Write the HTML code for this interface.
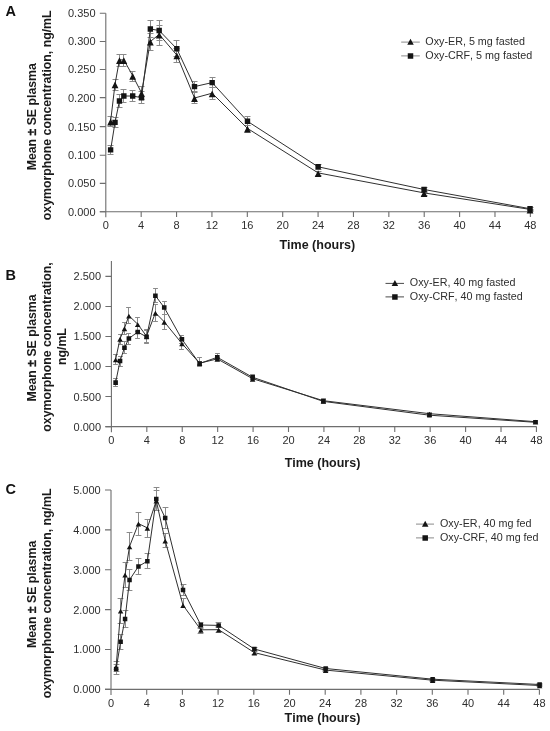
<!DOCTYPE html>
<html><head><meta charset="utf-8"><style>
html,body{margin:0;padding:0;background:#fff;}
svg{display:block;font-family:"Liberation Sans",sans-serif;will-change:transform;font-kerning:none;}
</style></head><body>
<svg width="550" height="731" viewBox="0 0 550 731">
<rect width="550" height="731" fill="#fff"/>
<text x="5.4" y="15.9" font-size="14.5" font-weight="bold" fill="#111">A</text>
<text transform="translate(36.0,116.75) rotate(-90)" text-anchor="middle" font-size="12.3" font-weight="bold" fill="#1a1a1a">Mean <tspan stroke="#1a1a1a" stroke-width="0.3">±</tspan> SE plasma</text>
<text transform="translate(50.9,115.3) rotate(-90)" text-anchor="middle" font-size="12.3" font-weight="bold" fill="#1a1a1a">oxymorphone concentration, ng/mL</text>
<path d="M105.8,13.2V217.3M99.8,211.7H530.36" stroke="#6e6e6e" stroke-width="1.1" fill="none"/>
<path d="M99.8,13.2H105.8M99.8,41.5H105.8M99.8,69.5H105.8M99.8,97.6H105.8M99.8,126.6H105.8M99.8,155.2H105.8M99.8,183.4H105.8M99.8,211.7H105.8M141.18,211.7V217.1M176.56,211.7V217.1M211.94,211.7V217.1M247.32,211.7V217.1M282.7,211.7V217.1M318.08,211.7V217.1M353.46,211.7V217.1M388.84,211.7V217.1M424.22,211.7V217.1M459.6,211.7V217.1M494.98,211.7V217.1M530.36,211.7V217.1" stroke="#6e6e6e" stroke-width="1.1" fill="none"/>
<text x="95.5" y="17.15" text-anchor="end" font-size="11" fill="#2e2e2e">0.350</text>
<text x="95.5" y="45.45" text-anchor="end" font-size="11" fill="#2e2e2e">0.300</text>
<text x="95.5" y="73.45" text-anchor="end" font-size="11" fill="#2e2e2e">0.250</text>
<text x="95.5" y="101.55" text-anchor="end" font-size="11" fill="#2e2e2e">0.200</text>
<text x="95.5" y="130.55" text-anchor="end" font-size="11" fill="#2e2e2e">0.150</text>
<text x="95.5" y="159.15" text-anchor="end" font-size="11" fill="#2e2e2e">0.100</text>
<text x="95.5" y="187.35" text-anchor="end" font-size="11" fill="#2e2e2e">0.050</text>
<text x="95.5" y="215.65" text-anchor="end" font-size="11" fill="#2e2e2e">0.000</text>
<text x="105.8" y="228.6" text-anchor="middle" font-size="11" fill="#2e2e2e">0</text>
<text x="141.18" y="228.6" text-anchor="middle" font-size="11" fill="#2e2e2e">4</text>
<text x="176.56" y="228.6" text-anchor="middle" font-size="11" fill="#2e2e2e">8</text>
<text x="211.94" y="228.6" text-anchor="middle" font-size="11" fill="#2e2e2e">12</text>
<text x="247.32" y="228.6" text-anchor="middle" font-size="11" fill="#2e2e2e">16</text>
<text x="282.7" y="228.6" text-anchor="middle" font-size="11" fill="#2e2e2e">20</text>
<text x="318.08" y="228.6" text-anchor="middle" font-size="11" fill="#2e2e2e">24</text>
<text x="353.46" y="228.6" text-anchor="middle" font-size="11" fill="#2e2e2e">28</text>
<text x="388.84" y="228.6" text-anchor="middle" font-size="11" fill="#2e2e2e">32</text>
<text x="424.22" y="228.6" text-anchor="middle" font-size="11" fill="#2e2e2e">36</text>
<text x="459.6" y="228.6" text-anchor="middle" font-size="11" fill="#2e2e2e">40</text>
<text x="494.98" y="228.6" text-anchor="middle" font-size="11" fill="#2e2e2e">44</text>
<text x="530.36" y="228.6" text-anchor="middle" font-size="11" fill="#2e2e2e">48</text>
<text x="317.3" y="248.5" text-anchor="middle" font-size="12.5" font-weight="bold" fill="#1a1a1a">Time (hours)</text>
<path d="M110.5,116.5V121.9M107.5,116.5H113.5M110.5,121.9V126.5M107.5,126.5H113.5M115.5,79.5V84.8M112.5,79.5H118.5M115.5,84.8V90.5M112.5,90.5H118.5M119.5,54.5V60.5M116.5,54.5H122.5M119.5,60.5V66.5M116.5,66.5H122.5M123.5,54.5V60.5M120.5,54.5H126.5M123.5,60.5V66.5M120.5,66.5H126.5M132.5,71.5V76.3M129.5,71.5H135.5M132.5,76.3V81.5M129.5,81.5H135.5M141.5,86.5V93.4M138.5,86.5H144.5M141.5,93.4V99.5M138.5,99.5H144.5M150.5,33.5V42.1M147.5,33.5H153.5M150.5,42.1V50.5M147.5,50.5H153.5M159.5,25.5V35M156.5,25.5H162.5M159.5,35V45.5M156.5,45.5H162.5M176.5,48.5V55.7M173.5,48.5H179.5M176.5,55.7V62.5M173.5,62.5H179.5M194.5,92.5V98.6M191.5,92.5H197.5M194.5,98.6V103.5M191.5,103.5H197.5M212.5,87.5V93.8M209.5,87.5H215.5M212.5,93.8V99.5M209.5,99.5H215.5M247.5,125.5V129M244.5,125.5H250.5M247.5,129V132.5M244.5,132.5H250.5M318.5,171.5V173.5M315.5,171.5H321.5M318.5,173.5V175.5M315.5,175.5H321.5M424.5,192.5V193.5M421.5,192.5H427.5M424.5,193.5V195.5M421.5,195.5H427.5M530.5,209.5V210M527.5,209.5H533.5M530.5,210V211.5M527.5,211.5H533.5M110.5,145.5V149.9M107.5,145.5H113.5M110.5,149.9V154.5M107.5,154.5H113.5M115.5,117.5V122.4M112.5,117.5H118.5M115.5,122.4V127.5M112.5,127.5H118.5M119.5,94.5V101M116.5,94.5H122.5M119.5,101V107.5M116.5,107.5H122.5M123.5,89.5V96M120.5,89.5H126.5M123.5,96V102.5M120.5,102.5H126.5M132.5,90.5V96M129.5,90.5H135.5M132.5,96V101.5M129.5,101.5H135.5M141.5,91.5V97.7M138.5,91.5H144.5M141.5,97.7V103.5M138.5,103.5H144.5M150.5,20.5V29M147.5,20.5H153.5M150.5,29V37.5M147.5,37.5H153.5M159.5,20.5V30.5M156.5,20.5H162.5M159.5,30.5V40.5M156.5,40.5H162.5M176.5,40.5V48.8M173.5,40.5H179.5M176.5,48.8V56.5M173.5,56.5H179.5M194.5,81.5V86.6M191.5,81.5H197.5M194.5,86.6V91.5M191.5,91.5H197.5M212.5,77.5V82.6M209.5,77.5H215.5M212.5,82.6V87.5M209.5,87.5H215.5M247.5,116.5V121.3M244.5,116.5H250.5M247.5,121.3V125.5M244.5,125.5H250.5M318.5,164.5V166.8M315.5,164.5H321.5M318.5,166.8V169.5M315.5,169.5H321.5M424.5,187.5V189.5M421.5,187.5H427.5M424.5,189.5V191.5M421.5,191.5H427.5M530.5,207.5V208.7M527.5,207.5H533.5M530.5,208.7V210.5M527.5,210.5H533.5" stroke="#8a8a8a" stroke-width="1" fill="none"/>
<polyline points="110.62,121.3 115.03,84.2 119.45,59.9 123.86,59.9 132.69,75.7 141.52,92.8 150.35,41.5 159.18,34.4 176.84,55.1 194.5,98 212.16,93.2 247.48,128.4 318.12,172.9 424.08,192.9 530.04,209.4" stroke="#303030" stroke-width="1" fill="none"/>
<polyline points="110.62,149.9 115.03,122.4 119.45,101 123.86,96 132.69,96 141.52,97.7 150.35,29 159.18,30.5 176.84,48.8 194.5,86.6 212.16,82.6 247.48,121.3 318.12,166.8 424.08,189.5 530.04,208.7" stroke="#303030" stroke-width="1" fill="none"/>
<path d="M110.62,118.6L114.02,125.4H107.22ZM115.03,81.5L118.43,88.3H111.63ZM119.45,57.2L122.85,64H116.05ZM123.86,57.2L127.26,64H120.46ZM132.69,73L136.09,79.8H129.29ZM141.52,90.1L144.92,96.9H138.12ZM150.35,38.8L153.75,45.6H146.95ZM159.18,31.7L162.58,38.5H155.78ZM176.84,52.4L180.24,59.2H173.44ZM194.5,95.3L197.9,102.1H191.1ZM212.16,90.5L215.56,97.3H208.76ZM247.48,125.7L250.88,132.5H244.08ZM318.12,170.2L321.52,177H314.72ZM424.08,190.2L427.48,197H420.68ZM530.04,206.7L533.44,213.5H526.64ZM107.92,147.2h5.4v5.4h-5.4ZM112.33,119.7h5.4v5.4h-5.4ZM116.75,98.3h5.4v5.4h-5.4ZM121.16,93.3h5.4v5.4h-5.4ZM129.99,93.3h5.4v5.4h-5.4ZM138.82,95h5.4v5.4h-5.4ZM147.65,26.3h5.4v5.4h-5.4ZM156.48,27.8h5.4v5.4h-5.4ZM174.14,46.1h5.4v5.4h-5.4ZM191.8,83.9h5.4v5.4h-5.4ZM209.46,79.9h5.4v5.4h-5.4ZM244.78,118.6h5.4v5.4h-5.4ZM315.42,164.1h5.4v5.4h-5.4ZM421.38,186.8h5.4v5.4h-5.4ZM527.34,206h5.4v5.4h-5.4Z" fill="#141414"/>
<path d="M401.2,42.1H419.8M401.2,55.9H419.8" stroke="#8a8a8a" stroke-width="1" fill="none"/>
<path d="M410.5,38.8L413.75,44.8H407.25Z M407.75,53.15h5.5v5.5h-5.5Z" fill="#141414"/>
<text x="425.3" y="44.8" font-size="10.75" fill="#2e2e2e">Oxy-ER, 5 mg fasted</text>
<text x="425.3" y="59" font-size="10.75" fill="#2e2e2e">Oxy-CRF, 5 mg fasted</text>
<text x="5.4" y="279.5" font-size="14.5" font-weight="bold" fill="#111">B</text>
<text transform="translate(36.1,348.0) rotate(-90)" text-anchor="middle" font-size="12.3" font-weight="bold" fill="#1a1a1a">Mean <tspan stroke="#1a1a1a" stroke-width="0.3">±</tspan> SE plasma</text>
<text transform="translate(50.9,347.0) rotate(-90)" text-anchor="middle" font-size="12.3" font-weight="bold" fill="#1a1a1a">oxymorphone concentration,</text>
<text transform="translate(65.9,346.6) rotate(-90)" text-anchor="middle" font-size="12.3" font-weight="bold" fill="#1a1a1a">ng/mL</text>
<path d="M111.4,260.9V432.2M105.4,426.6H536.44" stroke="#6e6e6e" stroke-width="1.1" fill="none"/>
<path d="M105.4,276.4H111.4M105.4,306.44H111.4M105.4,336.48H111.4M105.4,366.52H111.4M105.4,396.56H111.4M105.4,426.6H111.4M146.82,426.6V432M182.24,426.6V432M217.66,426.6V432M253.08,426.6V432M288.5,426.6V432M323.92,426.6V432M359.34,426.6V432M394.76,426.6V432M430.18,426.6V432M465.6,426.6V432M501.02,426.6V432M536.44,426.6V432" stroke="#6e6e6e" stroke-width="1.1" fill="none"/>
<text x="101.1" y="280.35" text-anchor="end" font-size="11" fill="#2e2e2e">2.500</text>
<text x="101.1" y="310.39" text-anchor="end" font-size="11" fill="#2e2e2e">2.000</text>
<text x="101.1" y="340.43" text-anchor="end" font-size="11" fill="#2e2e2e">1.500</text>
<text x="101.1" y="370.47" text-anchor="end" font-size="11" fill="#2e2e2e">1.000</text>
<text x="101.1" y="400.51" text-anchor="end" font-size="11" fill="#2e2e2e">0.500</text>
<text x="101.1" y="430.55" text-anchor="end" font-size="11" fill="#2e2e2e">0.000</text>
<text x="111.4" y="444" text-anchor="middle" font-size="11" fill="#2e2e2e">0</text>
<text x="146.82" y="444" text-anchor="middle" font-size="11" fill="#2e2e2e">4</text>
<text x="182.24" y="444" text-anchor="middle" font-size="11" fill="#2e2e2e">8</text>
<text x="217.66" y="444" text-anchor="middle" font-size="11" fill="#2e2e2e">12</text>
<text x="253.08" y="444" text-anchor="middle" font-size="11" fill="#2e2e2e">16</text>
<text x="288.5" y="444" text-anchor="middle" font-size="11" fill="#2e2e2e">20</text>
<text x="323.92" y="444" text-anchor="middle" font-size="11" fill="#2e2e2e">24</text>
<text x="359.34" y="444" text-anchor="middle" font-size="11" fill="#2e2e2e">28</text>
<text x="394.76" y="444" text-anchor="middle" font-size="11" fill="#2e2e2e">32</text>
<text x="430.18" y="444" text-anchor="middle" font-size="11" fill="#2e2e2e">36</text>
<text x="465.6" y="444" text-anchor="middle" font-size="11" fill="#2e2e2e">40</text>
<text x="501.02" y="444" text-anchor="middle" font-size="11" fill="#2e2e2e">44</text>
<text x="536.44" y="444" text-anchor="middle" font-size="11" fill="#2e2e2e">48</text>
<text x="322.5" y="466.6" text-anchor="middle" font-size="12.5" font-weight="bold" fill="#1a1a1a">Time (hours)</text>
<path d="M115.5,354.5V359.7M113.1,354.5H117.9M115.5,359.7V364.5M113.1,364.5H117.9M120.5,334.5V339M118.1,334.5H122.9M120.5,339V344.5M118.1,344.5H122.9M124.5,322.5V328.5M122.1,322.5H126.9M124.5,328.5V334.5M122.1,334.5H126.9M128.5,307.5V315.9M126.1,307.5H130.9M128.5,315.9V323.5M126.1,323.5H130.9M137.5,317.5V324.4M135.1,317.5H139.9M137.5,324.4V331.5M135.1,331.5H139.9M146.5,329.5V336.4M144.1,329.5H148.9M146.5,336.4V342.5M144.1,342.5H148.9M155.5,304.5V313M153.1,304.5H157.9M155.5,313V321.5M153.1,321.5H157.9M164.5,314.5V322M162.1,314.5H166.9M164.5,322V329.5M162.1,329.5H166.9M181.5,338.5V343.7M179.1,338.5H183.9M181.5,343.7V349.5M179.1,349.5H183.9M199.5,361.5V363.4M197.1,361.5H201.9M199.5,363.4V364.5M197.1,364.5H201.9M217.5,357.5V359.1M215.1,357.5H219.9M217.5,359.1V360.5M215.1,360.5H219.9M252.5,376.5V378.9M250.1,376.5H254.9M252.5,378.9V381.5M250.1,381.5H254.9M323.5,398.5V400.9M321.1,398.5H325.9M323.5,400.9V402.5M321.1,402.5H325.9M429.5,412.5V413.9M427.1,412.5H431.9M429.5,413.9V415.5M427.1,415.5H431.9M535.5,420.5V421.9M533.1,420.5H537.9M535.5,421.9V422.5M533.1,422.5H537.9M115.5,378.5V382.6M113.1,378.5H117.9M115.5,382.6V386.5M113.1,386.5H117.9M120.5,356.5V361M118.1,356.5H122.9M120.5,361V366.5M118.1,366.5H122.9M124.5,341.5V347.8M122.1,341.5H126.9M124.5,347.8V353.5M122.1,353.5H126.9M128.5,333.5V338.5M126.1,333.5H130.9M128.5,338.5V344.5M126.1,344.5H130.9M137.5,326.5V332M135.1,326.5H139.9M137.5,332V338.5M135.1,338.5H139.9M146.5,330.5V336.9M144.1,330.5H148.9M146.5,336.9V343.5M144.1,343.5H148.9M155.5,288.5V295.7M153.1,288.5H157.9M155.5,295.7V302.5M153.1,302.5H157.9M164.5,301.5V307.5M162.1,301.5H166.9M164.5,307.5V314.5M162.1,314.5H166.9M181.5,335.5V339.3M179.1,335.5H183.9M181.5,339.3V343.5M179.1,343.5H183.9M199.5,357.5V363.5M197.1,357.5H201.9M199.5,363.5V366.5M197.1,366.5H201.9M217.5,353.5V357.3M215.1,353.5H219.9M217.5,357.3V359.5M215.1,359.5H219.9M252.5,374.5V377.3M250.1,374.5H254.9M252.5,377.3V379.5M250.1,379.5H254.9M323.5,399.5V401.4M321.1,399.5H325.9M323.5,401.4V403.5M321.1,403.5H325.9M429.5,413.5V415.2M427.1,413.5H431.9M429.5,415.2V416.5M427.1,416.5H431.9M535.5,421.5V422.3M533.1,421.5H537.9M535.5,422.3V423.5M533.1,423.5H537.9" stroke="#8a8a8a" stroke-width="1" fill="none"/>
<polyline points="115.62,359.5 120.04,338.8 124.46,328.3 128.88,315.7 137.72,324.2 146.56,336.2 155.4,312.8 164.24,321.8 181.92,343.5 199.6,363.2 217.28,358.9 252.64,378.7 323.36,400.7 429.44,413.7 535.52,421.7" stroke="#303030" stroke-width="1" fill="none"/>
<polyline points="115.62,382.6 120.04,361 124.46,347.8 128.88,338.5 137.72,332 146.56,336.9 155.4,295.7 164.24,307.5 181.92,339.3 199.6,363.5 217.28,357.3 252.64,377.3 323.36,401.4 429.44,415.2 535.52,422.3" stroke="#303030" stroke-width="1" fill="none"/>
<path d="M115.62,357.45L118.37,362.35H112.87ZM120.04,336.75L122.79,341.65H117.29ZM124.46,326.25L127.21,331.15H121.71ZM128.88,313.65L131.63,318.55H126.13ZM137.72,322.15L140.47,327.05H134.97ZM146.56,334.15L149.31,339.05H143.81ZM155.4,310.75L158.15,315.65H152.65ZM164.24,319.75L166.99,324.65H161.49ZM181.92,341.45L184.67,346.35H179.17ZM199.6,361.15L202.35,366.05H196.85ZM217.28,356.85L220.03,361.75H214.53ZM252.64,376.65L255.39,381.55H249.89ZM323.36,398.65L326.11,403.55H320.61ZM429.44,411.65L432.19,416.55H426.69ZM535.52,419.65L538.27,424.55H532.77ZM113.32,380.3h4.6v4.6h-4.6ZM117.74,358.7h4.6v4.6h-4.6ZM122.16,345.5h4.6v4.6h-4.6ZM126.58,336.2h4.6v4.6h-4.6ZM135.42,329.7h4.6v4.6h-4.6ZM144.26,334.6h4.6v4.6h-4.6ZM153.1,293.4h4.6v4.6h-4.6ZM161.94,305.2h4.6v4.6h-4.6ZM179.62,337h4.6v4.6h-4.6ZM197.3,361.2h4.6v4.6h-4.6ZM214.98,355h4.6v4.6h-4.6ZM250.34,375h4.6v4.6h-4.6ZM321.06,399.1h4.6v4.6h-4.6ZM427.14,412.9h4.6v4.6h-4.6ZM533.22,420h4.6v4.6h-4.6Z" fill="#141414"/>
<path d="M385.5,283.4H404M385.5,296.9H404" stroke="#4a4a4a" stroke-width="1" fill="none"/>
<path d="M394.9,280.1L398.15,286.1H391.65Z M392.15,294.15h5.5v5.5h-5.5Z" fill="#141414"/>
<text x="409.8" y="286" font-size="10.75" fill="#2e2e2e">Oxy-ER, 40 mg fasted</text>
<text x="409.8" y="299.7" font-size="10.75" fill="#2e2e2e">Oxy-CRF, 40 mg fasted</text>
<text x="5.4" y="494.1" font-size="14.5" font-weight="bold" fill="#111">C</text>
<text transform="translate(35.9,594.4) rotate(-90)" text-anchor="middle" font-size="12.3" font-weight="bold" fill="#1a1a1a">Mean <tspan stroke="#1a1a1a" stroke-width="0.3">±</tspan> SE plasma</text>
<text transform="translate(50.9,593.4) rotate(-90)" text-anchor="middle" font-size="12.3" font-weight="bold" fill="#1a1a1a">oxymorphone concentration, ng/mL</text>
<path d="M111,490V695M105,689.4H539.4" stroke="#6e6e6e" stroke-width="1.1" fill="none"/>
<path d="M105,490H111M105,529.88H111M105,569.76H111M105,609.64H111M105,649.52H111M105,689.4H111M146.7,689.4V694.8M182.4,689.4V694.8M218.1,689.4V694.8M253.8,689.4V694.8M289.5,689.4V694.8M325.2,689.4V694.8M360.9,689.4V694.8M396.6,689.4V694.8M432.3,689.4V694.8M468,689.4V694.8M503.7,689.4V694.8M539.4,689.4V694.8" stroke="#6e6e6e" stroke-width="1.1" fill="none"/>
<text x="100.7" y="493.95" text-anchor="end" font-size="11" fill="#2e2e2e">5.000</text>
<text x="100.7" y="533.83" text-anchor="end" font-size="11" fill="#2e2e2e">4.000</text>
<text x="100.7" y="573.71" text-anchor="end" font-size="11" fill="#2e2e2e">3.000</text>
<text x="100.7" y="613.59" text-anchor="end" font-size="11" fill="#2e2e2e">2.000</text>
<text x="100.7" y="653.47" text-anchor="end" font-size="11" fill="#2e2e2e">1.000</text>
<text x="100.7" y="693.35" text-anchor="end" font-size="11" fill="#2e2e2e">0.000</text>
<text x="111" y="706.7" text-anchor="middle" font-size="11" fill="#2e2e2e">0</text>
<text x="146.7" y="706.7" text-anchor="middle" font-size="11" fill="#2e2e2e">4</text>
<text x="182.4" y="706.7" text-anchor="middle" font-size="11" fill="#2e2e2e">8</text>
<text x="218.1" y="706.7" text-anchor="middle" font-size="11" fill="#2e2e2e">12</text>
<text x="253.8" y="706.7" text-anchor="middle" font-size="11" fill="#2e2e2e">16</text>
<text x="289.5" y="706.7" text-anchor="middle" font-size="11" fill="#2e2e2e">20</text>
<text x="325.2" y="706.7" text-anchor="middle" font-size="11" fill="#2e2e2e">24</text>
<text x="360.9" y="706.7" text-anchor="middle" font-size="11" fill="#2e2e2e">28</text>
<text x="396.6" y="706.7" text-anchor="middle" font-size="11" fill="#2e2e2e">32</text>
<text x="432.3" y="706.7" text-anchor="middle" font-size="11" fill="#2e2e2e">36</text>
<text x="468" y="706.7" text-anchor="middle" font-size="11" fill="#2e2e2e">40</text>
<text x="503.7" y="706.7" text-anchor="middle" font-size="11" fill="#2e2e2e">44</text>
<text x="539.4" y="706.7" text-anchor="middle" font-size="11" fill="#2e2e2e">48</text>
<text x="322.45" y="722" text-anchor="middle" font-size="12.5" font-weight="bold" fill="#1a1a1a">Time (hours)</text>
<path d="M116.5,661.5V666.8M113.6,661.5H119.4M116.5,666.8V671.5M113.6,671.5H119.4M120.5,598.5V610.9M117.6,598.5H123.4M120.5,610.9V623.5M117.6,623.5H123.4M125.5,562.5V574.9M122.6,562.5H128.4M125.5,574.9V587.5M122.6,587.5H128.4M129.5,532.5V546.7M126.6,532.5H132.4M129.5,546.7V560.5M126.6,560.5H132.4M138.5,512.5V523.8M135.6,512.5H141.4M138.5,523.8V535.5M135.6,535.5H141.4M147.5,519.5V528.1M144.6,519.5H150.4M147.5,528.1V537.5M144.6,537.5H150.4M156.5,490.5V500.9M153.6,490.5H159.4M156.5,500.9V510.5M153.6,510.5H159.4M165.5,533.5V540.9M162.6,533.5H168.4M165.5,540.9V547.5M162.6,547.5H168.4M183.5,598.5V605.4M180.6,598.5H186.4M200.5,627.5V630M197.6,627.5H203.4M200.5,630V633.5M197.6,633.5H203.4M218.5,626.5V629.9M215.6,626.5H221.4M218.5,629.9V632.5M215.6,632.5H221.4M254.5,650.5V652.8M251.6,650.5H257.4M254.5,652.8V654.5M251.6,654.5H257.4M325.5,668.5V670.3M322.6,668.5H328.4M325.5,670.3V671.5M322.6,671.5H328.4M432.5,679.5V680.4M429.6,679.5H435.4M432.5,680.4V681.5M429.6,681.5H435.4M539.5,684.5V685.7M536.6,684.5H542.4M539.5,685.7V686.5M536.6,686.5H542.4M116.5,664.5V669M113.6,664.5H119.4M116.5,669V674.5M113.6,674.5H119.4M120.5,634.5V641.7M117.6,634.5H123.4M120.5,641.7V649.5M117.6,649.5H123.4M125.5,610.5V618.9M122.6,610.5H128.4M125.5,618.9V627.5M122.6,627.5H128.4M129.5,569.5V579.9M126.6,569.5H132.4M129.5,579.9V590.5M126.6,590.5H132.4M138.5,558.5V566.4M135.6,558.5H141.4M138.5,566.4V574.5M135.6,574.5H141.4M147.5,553.5V561.2M144.6,553.5H150.4M147.5,561.2V568.5M144.6,568.5H150.4M156.5,487.5V499.1M153.6,487.5H159.4M156.5,499.1V510.5M153.6,510.5H159.4M165.5,507.5V517.9M162.6,507.5H168.4M165.5,517.9V528.5M162.6,528.5H168.4M183.5,584.5V590M180.6,584.5H186.4M183.5,590V595.5M180.6,595.5H186.4M200.5,622.5V625M197.6,622.5H203.4M200.5,625V628.5M197.6,628.5H203.4M218.5,622.5V625.4M215.6,622.5H221.4M218.5,625.4V627.5M215.6,627.5H221.4M254.5,647.5V649M251.6,647.5H257.4M254.5,649V651.5M251.6,651.5H257.4M325.5,667.5V668.5M322.6,667.5H328.4M325.5,668.5V670.5M322.6,670.5H328.4M432.5,678.5V679.2M429.6,678.5H435.4M432.5,679.2V680.5M429.6,680.5H435.4M539.5,683.5V684.5M536.6,683.5H542.4M539.5,684.5V685.5M536.6,685.5H542.4" stroke="#8a8a8a" stroke-width="1" fill="none"/>
<polyline points="116.16,666.6 120.62,610.7 125.07,574.7 129.53,546.5 138.44,523.6 147.36,527.9 156.28,500.7 165.19,540.7 183.02,605.2 200.85,629.8 218.68,629.7 254.34,652.6 325.66,670.1 432.64,680.2 539.62,685.5" stroke="#303030" stroke-width="1" fill="none"/>
<polyline points="116.16,669 120.62,641.7 125.07,618.9 129.53,579.9 138.44,566.4 147.36,561.2 156.28,499.1 165.19,517.9 183.02,590 200.85,625 218.68,625.4 254.34,649 325.66,668.5 432.64,679.2 539.62,684.5" stroke="#303030" stroke-width="1" fill="none"/>
<path d="M116.16,664.55L118.91,669.45H113.41ZM120.62,608.65L123.37,613.55H117.87ZM125.07,572.65L127.82,577.55H122.32ZM129.53,544.45L132.28,549.35H126.78ZM138.44,521.55L141.19,526.45H135.69ZM147.36,525.85L150.11,530.75H144.61ZM156.28,498.65L159.03,503.55H153.53ZM165.19,538.65L167.94,543.55H162.44ZM183.02,603.15L185.77,608.05H180.27ZM200.85,627.75L203.6,632.65H198.1ZM218.68,627.65L221.43,632.55H215.93ZM254.34,650.55L257.09,655.45H251.59ZM325.66,668.05L328.41,672.95H322.91ZM432.64,678.15L435.39,683.05H429.89ZM539.62,683.45L542.37,688.35H536.87ZM113.91,666.75h4.5v4.5h-4.5ZM118.37,639.45h4.5v4.5h-4.5ZM122.82,616.65h4.5v4.5h-4.5ZM127.28,577.65h4.5v4.5h-4.5ZM136.19,564.15h4.5v4.5h-4.5ZM145.11,558.95h4.5v4.5h-4.5ZM154.03,496.85h4.5v4.5h-4.5ZM162.94,515.65h4.5v4.5h-4.5ZM180.77,587.75h4.5v4.5h-4.5ZM198.6,622.75h4.5v4.5h-4.5ZM216.43,623.15h4.5v4.5h-4.5ZM252.09,646.75h4.5v4.5h-4.5ZM323.41,666.25h4.5v4.5h-4.5ZM430.39,676.95h4.5v4.5h-4.5ZM537.37,682.25h4.5v4.5h-4.5Z" fill="#141414"/>
<path d="M416,524.1H434M416,537.9H434" stroke="#8a8a8a" stroke-width="1" fill="none"/>
<path d="M425.2,520.8L428.45,526.8H421.95Z M422.45,535.15h5.5v5.5h-5.5Z" fill="#141414"/>
<text x="440" y="526.9" font-size="10.75" fill="#2e2e2e">Oxy-ER, 40 mg fed</text>
<text x="440" y="540.7" font-size="10.75" fill="#2e2e2e">Oxy-CRF, 40 mg fed</text>
</svg>
</body></html>
